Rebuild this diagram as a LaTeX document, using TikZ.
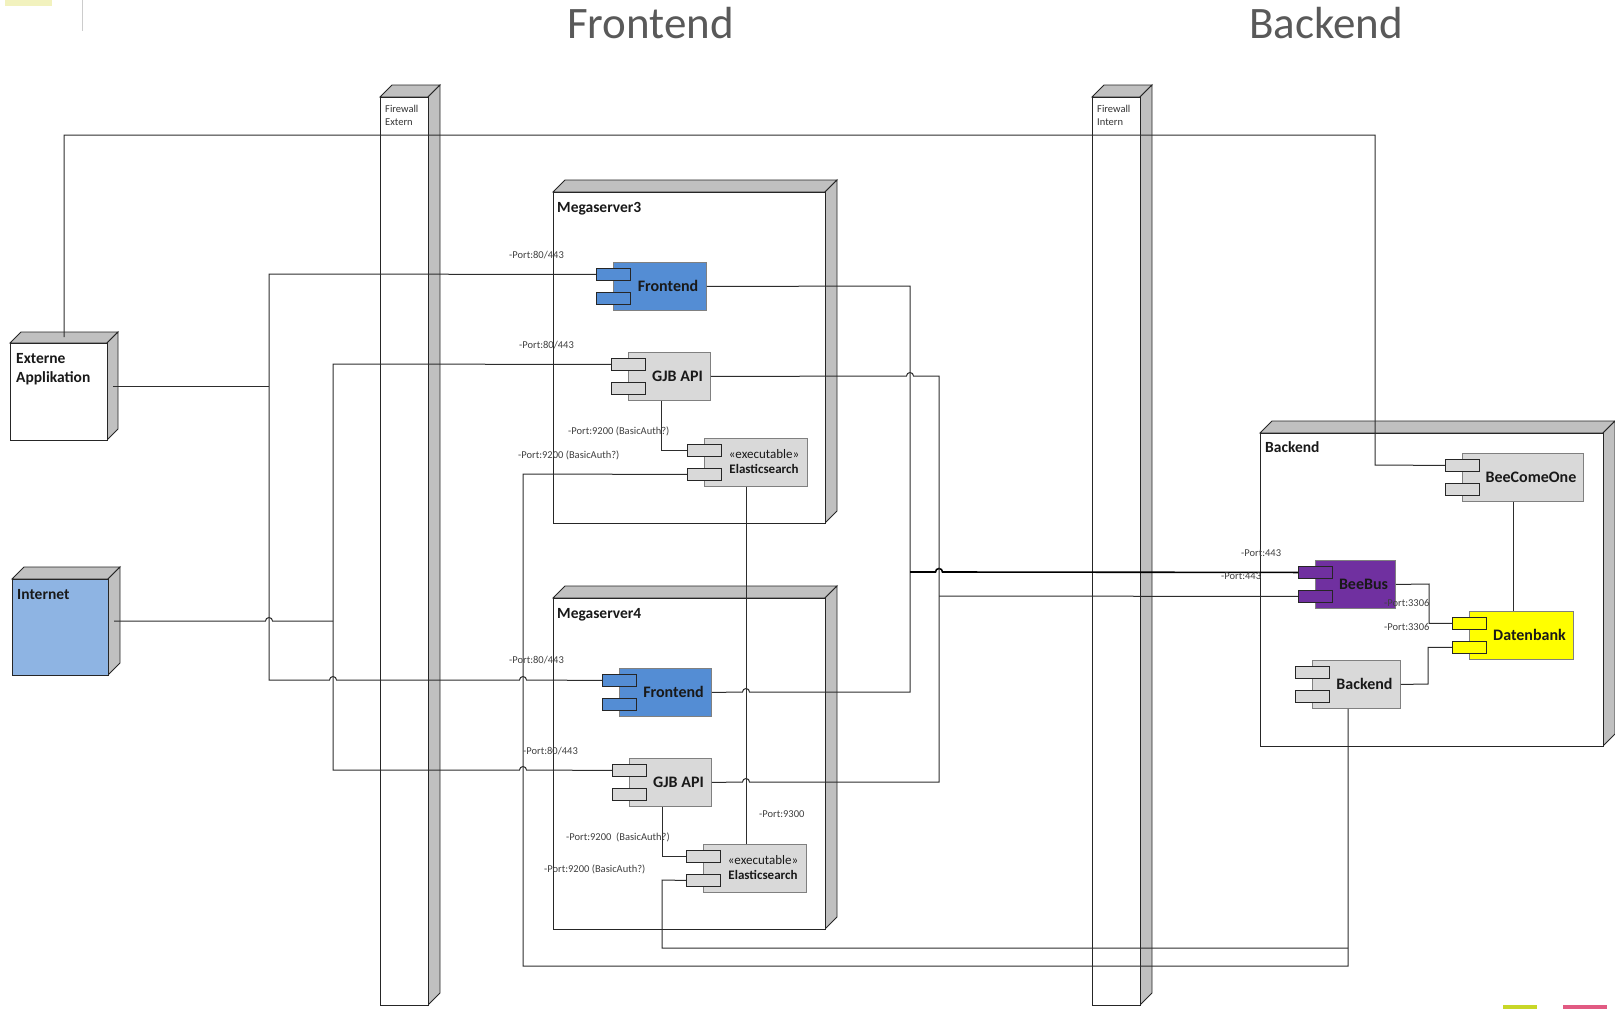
\documentclass[tikz,border=0pt]{standalone}
\usepackage{fontspec}
\setmainfont{Carlito}
\definecolor{feblue}{RGB}{84,141,212}
\definecolor{compgrey}{RGB}{217,217,217}
\definecolor{sidegrey}{RGB}{192,192,192}
\definecolor{inetblue}{RGB}{142,180,227}
\definecolor{bbpurple}{RGB}{112,48,160}
\definecolor{dbyellow}{RGB}{255,255,0}
\definecolor{titlegrey}{RGB}{89,89,89}
\definecolor{linecol}{RGB}{45,45,45}
\definecolor{artyellow}{RGB}{242,242,190}
\definecolor{artgreen}{RGB}{200,215,40}
\definecolor{artpink}{RGB}{225,90,130}
\newcommand\cfont{\bfseries\fontsize{16}{19}\selectfont}
\newcommand\esfont{\fontsize{13}{15}\selectfont}
% 3D box: name, x, y, w, h, depth, fill
\newcommand\mybox[7]{%
  \draw[face] (#2,#3) -- (#2+#6,#3-#6) -- (#2+#4+#6,#3-#6) -- (#2+#4,#3) -- cycle;
  \draw[face] (#2+#4,#3) -- (#2+#4+#6,#3-#6) -- (#2+#4+#6,#3+#5-#6) -- (#2+#4,#3+#5) -- cycle;
  \node[front,fill=#7,minimum width=#4pt,minimum height=#5pt] (#1) at (#2,#3) {};
}
% component: name, x, y, w, fill, font, label
\newcommand\mycomp[7]{%
  \node[cbody,fill=#5,minimum width=#4pt,anchor=north west] (#1) at (#2,#3) {};
  \node[cport,fill=#5,anchor=north west] (#1p1) at (#2-17,#3+6) {};
  \node[cport,fill=#5,anchor=north west] (#1p2) at (#2-17,#3+30) {};
  \node[font=#6,align=center,text=black!90,inner sep=0pt] (#1t) at (#2+#4/2+8.5,#3+24) {#7};
}
\newcommand\bumpR[2]{-- (#1-3.5,#2) arc[start angle=180,end angle=360,radius=3.5]}
\newcommand\bumpL[2]{-- (#1+3.5,#2) arc[start angle=0,end angle=-180,radius=3.5]}
\begin{document}
\begin{tikzpicture}[x=1pt,y=-1pt,
  conn/.style={draw=linecol,line width=1pt},
  thickconn/.style={draw=black,line width=1.6pt},
  cbody/.style={draw=black!50,line width=0.9pt,minimum height=48pt,inner sep=0pt},
  cport/.style={draw=black!85,line width=0.9pt,minimum width=34pt,minimum height=12pt,inner sep=0pt},
  face/.style={draw=black!85,fill=sidegrey,line width=0.9pt},
  front/.style={draw=black!85,line width=0.9pt,inner sep=0pt,anchor=north west},
  boxlbl/.style={font=\bfseries\fontsize{15.5}{18.5}\selectfont,text=black!90,anchor=base west,inner sep=0pt},
  fwlbl/.style={font=\fontsize{10.5}{13}\selectfont,text=black!80,anchor=base west,inner sep=0pt},
  plbl/.style={font=\fontsize{10.5}{12}\selectfont,text=black!75,anchor=west,inner sep=0pt},
  title/.style={font=\fontsize{45}{54}\selectfont,text=titlegrey,anchor=base west,inner sep=0pt}]
\useasboundingbox (0,0) rectangle (1615,1009);
% slide artefacts
\fill[artyellow] (5,0) rectangle (52,6);
\draw[black!20,line width=0.8pt] (82,0) -- (82,31);
\fill[artgreen] (1503,1005) rectangle (1537,1009);
\fill[artpink] (1563,1005) rectangle (1607,1009);
% titles
\node[title] (t1) at (567,38) {Frontend};
\node[title] (t2) at (1249,38) {Backend};
% firewalls and nodes
\mybox{fwe}{380}{97}{48}{908}{12}{white}
\mybox{fwi}{1092}{97}{48}{908}{12}{white}
\mybox{ms3}{553}{192}{272}{331}{12}{white}
\mybox{ms4}{553}{598}{272}{331}{12}{white}
\mybox{ea}{10}{343}{97}{97}{11}{white}
\mybox{inet}{12}{579}{96}{96}{12}{inetblue}
\mybox{bk}{1260}{433}{343}{313}{12}{white}
\node[fwlbl] (fwe1) at (385,112.5) {Firewall};
\node[fwlbl] (fwe2) at (385,125) {Extern};
\node[fwlbl] (fwi1) at (1097,112.5) {Firewall};
\node[fwlbl] (fwi2) at (1097,125) {Intern};
\node[boxlbl] (ms3l) at (557,212) {Megaserver3};
\node[boxlbl] (ms4l) at (557,618) {Megaserver4};
\node[boxlbl] (eal1) at (16,363) {Externe};
\node[boxlbl] (eal2) at (16,382) {Applikation};
\node[boxlbl] (inetl) at (17,599) {Internet};
\node[boxlbl] (bkl) at (1265,452) {Backend};
% components
\mycomp{fe3}{613}{262}{93}{feblue}{\cfont}{Frontend}
\mycomp{gjb3}{628}{352}{82}{compgrey}{\cfont}{GJB API}
\mycomp{es3}{704}{438}{103}{compgrey}{\esfont}{«executable»\\\textbf{Elasticsearch}}
\mycomp{fe4}{619}{668}{92}{feblue}{\cfont}{Frontend}
\mycomp{gjb4}{629}{758}{82}{compgrey}{\cfont}{GJB API}
\mycomp{es4}{703}{844}{103}{compgrey}{\esfont}{«executable»\\\textbf{Elasticsearch}}
\mycomp{bc}{1462}{453}{121}{compgrey}{\cfont}{BeeComeOne}
\mycomp{bb}{1315}{560}{80}{bbpurple}{\cfont}{BeeBus}
\mycomp{db}{1469}{611}{104}{dbyellow}{\cfont}{Datenbank}
\mycomp{be}{1312}{660}{88}{compgrey}{\cfont}{Backend}
% connector end points
\coordinate (eaTop) at (64,337);
\coordinate (eaR) at (113,386);
\coordinate (inetR) at (114,621);
\coordinate (jf) at (910,572);
\coordinate (jg) at (939,596);
\coordinate (jl) at (1348,948);
% connectors
\draw[conn] (eaTop) -- (64,135) -- (1375,135) -- (1375,465) -- (bcp1.west);
\draw[conn] (eaR) -- (269,386);
\draw[conn] (fe3p1.west) -- (269,274) -- (269,680) \bumpR{333}{680} \bumpR{523}{680} -- (fe4p1.west);
\draw[conn] (inetR) \bumpR{269}{621} -- (333,621);
\draw[conn] (gjb3p1.west) -- (333,364) -- (333,770) \bumpR{523}{770} -- (gjb4p1.west);
\draw[conn] (fe3.east) -- (910,286) -- (910,692) \bumpL{746}{692} -- (fe4.east);
\draw[thickconn] (jf) \bumpR{939}{572} -- (bbp1.west);
\draw[conn] (gjb3.east) \bumpR{910}{376} -- (939,376) -- (939,782) \bumpL{746}{782} -- (gjb4.east);
\draw[conn] (jg) -- (bbp2.west);
\draw[conn] ([xshift=33pt]gjb3.south west) |- (es3p1.west);
\draw[conn] (es3p2.west) -- (523,474) -- (523,966) -- (1348,966) -- ([xshift=36pt]be.south west);
\draw[conn] (es4p2.west) -- (662,880) -- (662,948) -- (jl);
\draw[conn] ([xshift=42pt]es3.south west) -- ([xshift=43pt]es4.north west);
\draw[conn] ([xshift=33pt]gjb4.south west) |- (es4p1.west);
\draw[conn] ([xshift=51pt]bc.south west) -- ([xshift=44pt]db.north west);
\draw[conn] (bb.east) -- (1429,584) |- (dbp1.west);
\draw[conn] (be.east) -- (1428,684) |- (dbp2.west);
% port labels
\node[plbl] (l1) at (509,255) {-Port:80/443};
\node[plbl] (l2) at (519,345) {-Port:80/443};
\node[plbl] (l3) at (568,431) {-Port:9200 (BasicAuth?)};
\node[plbl] (l4) at (518,455) {-Port:9200 (BasicAuth?)};
\node[plbl] (l5) at (509,660) {-Port:80/443};
\node[plbl] (l6) at (523,751) {-Port:80/443};
\node[plbl] (l7) at (759,814) {-Port:9300};
\node[plbl] (l8) at (566,837) {-Port:9200~ (BasicAuth?)};
\node[plbl] (l9) at (544,869) {-Port:9200 (BasicAuth?)};
\node[plbl] (l10) at (1241,553) {-Port:443};
\node[plbl] (l11) at (1221,576) {-Port:443};
\node[plbl] (l12) at (1384,603) {-Port:3306};
\node[plbl] (l13) at (1384,627) {-Port:3306};
\end{tikzpicture}
\end{document}
